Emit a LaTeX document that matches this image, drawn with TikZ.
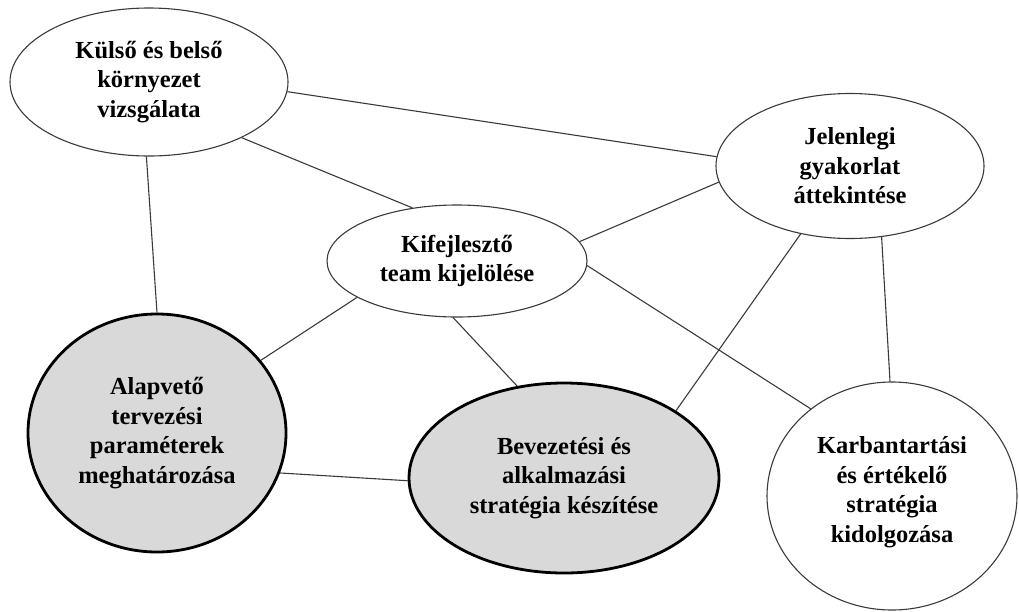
\documentclass[tikz,border=0pt]{standalone}
\usepackage{fontspec}
\setmainfont{Liberation Serif}
\usetikzlibrary{shapes.geometric}
\definecolor{edgegray}{HTML}{3A3A3A}
\definecolor{fillgray}{HTML}{D9D9D9}
\begin{document}
\begin{tikzpicture}[x=1pt,y=-1pt,
  ellbox/.style={ellipse, draw=edgegray, line width=1.1pt, fill=white, inner sep=0pt},
  keybox/.style={ellipse, draw=black, line width=2.8pt, fill=fillgray, inner sep=0pt},
  lbl/.style={align=center, font=\bfseries\fontsize{24.5}{29.5}\selectfont, inner sep=0pt},
  link/.style={draw=edgegray, line width=1.1pt}]
\useasboundingbox (0,0) rectangle (1019,611);

% ellipses
\node[ellbox, minimum width=278pt, minimum height=148pt] (kul) at (149,82) {};
\node[ellbox, minimum width=268pt, minimum height=145pt] (jel) at (850,166) {};
\node[ellbox, minimum width=260pt, minimum height=112pt] (tea) at (457,261) {};
\node[keybox, minimum width=258pt, minimum height=238pt] (alp) at (157,433) {};
\node[keybox, minimum width=310pt, minimum height=190pt] (bev) at (564,478) {};
\node[ellbox, minimum width=250pt, minimum height=228pt] (kar) at (892,496) {};

% labels
\node[lbl] (kul-t) at (kul) {Külső és belső\\környezet\\vizsgálata};
\node[lbl] (jel-t) at (jel) {Jelenlegi\\gyakorlat\\áttekintése};
\node[lbl] (tea-t) at (tea) {Kifejlesztő\\team kijelölése};
\node[lbl] (alp-t) at (alp) {Alapvető\\tervezési\\paraméterek\\meghatározása};
\node[lbl] (bev-t) at (bev) {Bevezetési és\\alkalmazási\\stratégia készítése};
\node[lbl] (kar-t) at ([yshift=4pt]kar.center) {Karbantartási\\és értékelő\\stratégia\\kidolgozása};

% connections
\draw[link] (kul.-4.7) -- (jel.176.6);
\draw[link] (kul.-31) -- (tea.130);
\draw[link] (kul.268) -- (alp.90);
\draw[link] (jel.187) -- (tea.9.6);
\draw[link] (jel.234) -- (bev.31.3);
\draw[link] (jel.-66.6) -- (kar.91.5);
\draw[link] (tea.200) -- (alp.35.2);
\draw[link] (tea.-94) -- (bev.117.8);
\draw[link] (tea.-2.6) -- (kar.133.3);
\draw[link] (alp.-18.6) -- (bev.181.9);
\end{tikzpicture}
\end{document}
